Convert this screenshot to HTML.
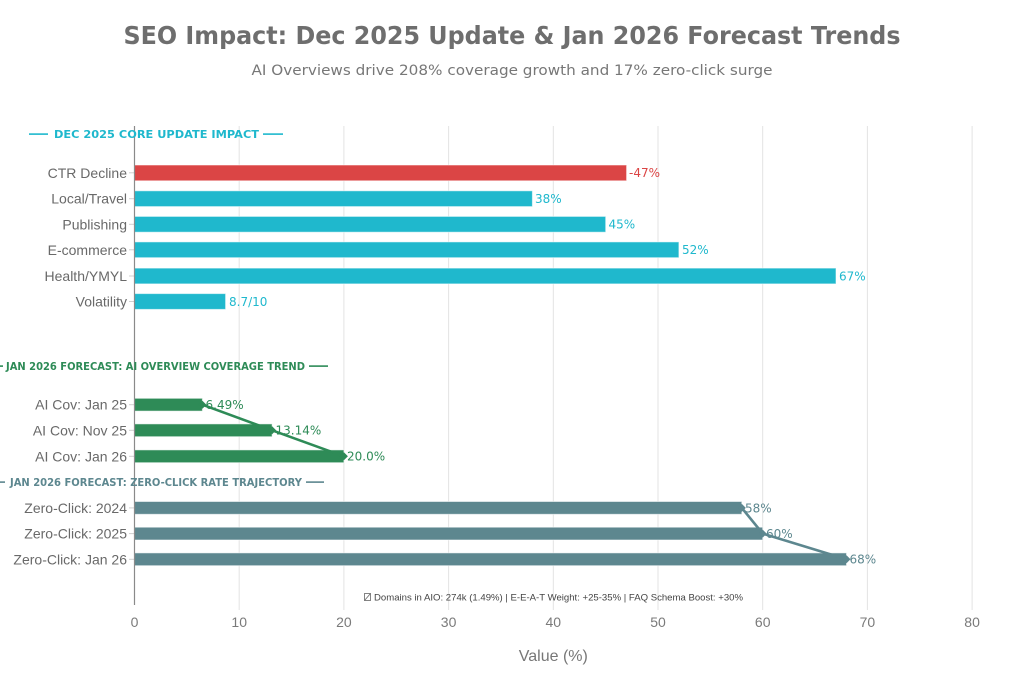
<!DOCTYPE html>
<html><head><meta charset="utf-8"><style>
html,body{margin:0;padding:0;background:#fff;}
svg{display:block;}
</style></head><body>
<svg width="1024" height="683" viewBox="0 0 1024 683" xmlns="http://www.w3.org/2000/svg">
<rect width="1024" height="683" fill="#fff"/>
<!-- title -->
<text x="512" y="44" text-anchor="middle" font-family="DejaVu Sans, sans-serif" font-weight="bold" font-size="25" fill="#6e6e6e" textLength="777" lengthAdjust="spacingAndGlyphs">SEO Impact: Dec 2025 Update &amp; Jan 2026 Forecast Trends</text>
<text x="512" y="75" text-anchor="middle" font-family="DejaVu Sans, sans-serif" font-size="14.5" fill="#777" textLength="521" lengthAdjust="spacingAndGlyphs">AI Overviews drive 208% coverage growth and 17% zero-click surge</text>

<!-- gridlines -->
<g stroke="#e3e3e3" stroke-width="1">
<line x1="239.2" y1="126" x2="239.2" y2="610"/>
<line x1="343.9" y1="126" x2="343.9" y2="610"/>
<line x1="448.6" y1="126" x2="448.6" y2="610"/>
<line x1="553.3" y1="126" x2="553.3" y2="610"/>
<line x1="658" y1="126" x2="658" y2="610"/>
<line x1="762.7" y1="126" x2="762.7" y2="610"/>
<line x1="867.4" y1="126" x2="867.4" y2="610"/>
<line x1="972.1" y1="126" x2="972.1" y2="610"/>
</g>

<!-- y ticks -->
<g stroke="#d0d0d0" stroke-width="1">
<line x1="129" y1="172.8" x2="134" y2="172.8"/>
<line x1="129" y1="198.7" x2="134" y2="198.7"/>
<line x1="129" y1="224.3" x2="134" y2="224.3"/>
<line x1="129" y1="249.8" x2="134" y2="249.8"/>
<line x1="129" y1="276" x2="134" y2="276"/>
<line x1="129" y1="301.5" x2="134" y2="301.5"/>
<line x1="129" y1="404.7" x2="134" y2="404.7"/>
<line x1="129" y1="430.3" x2="134" y2="430.3"/>
<line x1="129" y1="456.3" x2="134" y2="456.3"/>
<line x1="129" y1="507.9" x2="134" y2="507.9"/>
<line x1="129" y1="533.6" x2="134" y2="533.6"/>
<line x1="129" y1="559.3" x2="134" y2="559.3"/>
</g>

<!-- bars -->
<g stroke="#ffffff" stroke-opacity="0.55" stroke-width="1">
<rect x="134.5" y="165" width="492.1" height="15.8" fill="#DB4545"/>
<rect x="134.5" y="190.8" width="397.9" height="15.8" fill="#1FB8CD"/>
<rect x="134.5" y="216.4" width="471.2" height="15.8" fill="#1FB8CD"/>
<rect x="134.5" y="241.9" width="544.4" height="15.8" fill="#1FB8CD"/>
<rect x="134.5" y="268.1" width="701.5" height="15.8" fill="#1FB8CD"/>
<rect x="134.5" y="293.6" width="91.1" height="15.8" fill="#1FB8CD"/>

<rect x="134.5" y="398.3" width="67.9" height="12.8" fill="#2E8B57"/>
<rect x="134.5" y="423.9" width="137.6" height="12.8" fill="#2E8B57"/>
<rect x="134.5" y="449.9" width="209.4" height="12.8" fill="#2E8B57"/>

<rect x="134.5" y="501.5" width="607.3" height="12.8" fill="#5D878F"/>
<rect x="134.5" y="527.2" width="628.2" height="12.8" fill="#5D878F"/>
<rect x="134.5" y="552.9" width="712" height="12.8" fill="#5D878F"/>
</g>

<!-- trend lines -->
<polyline points="202.4,404.7 272.1,430.3 343.9,456.3" fill="none" stroke="#2E8B57" stroke-width="2.6"/>
<g fill="#2E8B57">
<path d="M202.4,400.7 L206.4,404.7 L202.4,408.7 L198.4,404.7Z"/>
<path d="M272.1,426.3 L276.1,430.3 L272.1,434.3 L268.1,430.3Z"/>
<path d="M343.9,452.3 L347.9,456.3 L343.9,460.3 L339.9,456.3Z"/>
</g>
<polyline points="741.8,507.9 762.7,533.6 846.5,559.3" fill="none" stroke="#5D878F" stroke-width="2.6"/>
<g fill="#5D878F">
<path d="M741.8,503.9 L745.8,507.9 L741.8,511.9 L737.8,507.9Z"/>
<path d="M762.7,529.6 L766.7,533.6 L762.7,537.6 L758.7,533.6Z"/>
<path d="M846.5,555.3 L850.5,559.3 L846.5,563.3 L842.5,559.3Z"/>
</g>

<!-- y axis line -->
<line x1="134.5" y1="126" x2="134.5" y2="605" stroke="#8a8a8a" stroke-width="1.2"/>

<!-- value labels -->
<g font-family="DejaVu Sans, sans-serif" font-size="12">
<text x="629" y="177.2" fill="#DB4545">-47%</text>
<text x="535" y="203.1" fill="#1FB8CD">38%</text>
<text x="608.5" y="228.7" fill="#1FB8CD">45%</text>
<text x="682" y="254.2" fill="#1FB8CD">52%</text>
<text x="839" y="280.4" fill="#1FB8CD">67%</text>
<text x="229" y="305.9" fill="#1FB8CD">8.7/10</text>
<text x="205.5" y="409.1" fill="#2E8B57">6.49%</text>
<text x="275.5" y="434.7" fill="#2E8B57">13.14%</text>
<text x="347" y="460.7" fill="#2E8B57">20.0%</text>
<text x="745" y="512.3" fill="#5D878F">58%</text>
<text x="766" y="538" fill="#5D878F">60%</text>
<text x="849.5" y="563.7" fill="#5D878F">68%</text>
</g>

<!-- category labels -->
<g font-family="Liberation Sans, sans-serif" font-size="14" fill="#696969" text-anchor="end">
<text x="127" y="177.8">CTR Decline</text>
<text x="127" y="203.7">Local/Travel</text>
<text x="127" y="229.3">Publishing</text>
<text x="127" y="254.8">E-commerce</text>
<text x="127" y="281">Health/YMYL</text>
<text x="127" y="306.5">Volatility</text>
<text x="127" y="409.7">AI Cov: Jan 25</text>
<text x="127" y="435.3">AI Cov: Nov 25</text>
<text x="127" y="461.3">AI Cov: Jan 26</text>
<text x="127" y="512.9">Zero-Click: 2024</text>
<text x="127" y="538.6">Zero-Click: 2025</text>
<text x="127" y="564.3">Zero-Click: Jan 26</text>
</g>

<!-- section headers -->
<g font-family="DejaVu Sans, sans-serif" font-weight="bold" font-size="10.5">
<rect x="29" y="133.3" width="19" height="1.6" fill="#1FB8CD"/>
<rect x="263" y="133.3" width="20" height="1.6" fill="#1FB8CD"/>
<text x="54" y="138" fill="#1FB8CD" textLength="205" lengthAdjust="spacingAndGlyphs">DEC 2025 CORE UPDATE IMPACT</text>

<rect x="0" y="365.3" width="3" height="1.6" fill="#2E8B57"/>
<rect x="309" y="365.3" width="19" height="1.6" fill="#2E8B57"/>
<text x="6" y="370" fill="#2E8B57" textLength="299" lengthAdjust="spacingAndGlyphs">JAN 2026 FORECAST: AI OVERVIEW COVERAGE TREND</text>

<rect x="0" y="481.3" width="5" height="1.6" fill="#5D878F"/>
<rect x="306" y="481.3" width="18" height="1.6" fill="#5D878F"/>
<text x="10" y="486" fill="#5D878F" textLength="292" lengthAdjust="spacingAndGlyphs">JAN 2026 FORECAST: ZERO-CLICK RATE TRAJECTORY</text>
</g>

<!-- annotation -->
<rect x="364.5" y="593.5" width="6" height="7" fill="none" stroke="#666" stroke-width="0.8"/>
<line x1="364.5" y1="600.5" x2="370.5" y2="593.5" stroke="#666" stroke-width="0.8"/>
<text x="374" y="600.5" font-family="Liberation Sans, sans-serif" font-size="9.5" fill="#444" textLength="369" lengthAdjust="spacingAndGlyphs">Domains in AIO: 274k (1.49%) | E-E-A-T Weight: +25-35% | FAQ Schema Boost: +30%</text>

<!-- x tick labels -->
<g font-family="Liberation Sans, sans-serif" font-size="14" fill="#7a7a7a" text-anchor="middle">
<text x="134.5" y="627">0</text>
<text x="239.2" y="627">10</text>
<text x="343.9" y="627">20</text>
<text x="448.6" y="627">30</text>
<text x="553.3" y="627">40</text>
<text x="658" y="627">50</text>
<text x="762.7" y="627">60</text>
<text x="867.4" y="627">70</text>
<text x="972.1" y="627">80</text>
</g>
<text x="553.3" y="661" text-anchor="middle" font-family="Liberation Sans, sans-serif" font-size="16" fill="#777">Value (%)</text>
</svg>
</body></html>
